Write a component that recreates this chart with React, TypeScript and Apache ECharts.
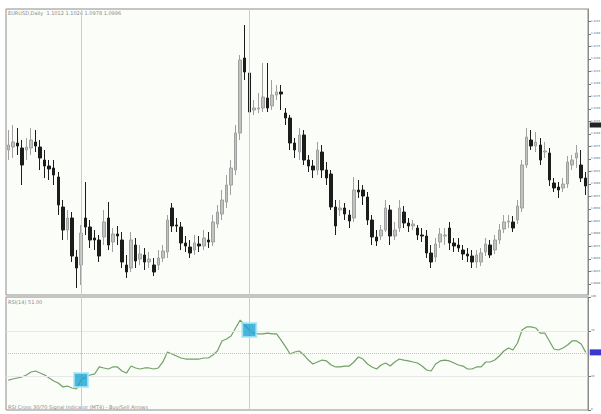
import { useEffect, useRef } from 'react';
import * as echarts from 'echarts';

// Daily candles (EURUSD)
const opens = [
  1.1068, 1.1074, 1.1082, 1.1072, 1.1068, 1.1072, 1.1084, 1.1074, 1.1048, 1.1036,
  1.1032, 1.1014, 1.0954, 1.0908, 1.0932, 1.0854, 1.0838, 1.0932, 1.0914, 1.0892,
  1.0888, 1.0894, 1.0932, 1.0884, 1.0900, 1.0888, 1.0838, 1.0832, 1.0878, 1.0850,
  1.0858, 1.0844, 1.0838, 1.0838, 1.0852, 1.0864, 1.0952, 1.0918, 1.0914, 1.0882,
  1.0874, 1.0868, 1.0880, 1.0876, 1.0888, 1.0884, 1.0920, 1.0940, 1.0964, 1.0998,
  1.1028, 1.1102, 1.1252, 1.1222, 1.1148, 1.1150, 1.1152, 1.1172, 1.1156, 1.1178,
  1.1184, 1.1142, 1.1132, 1.1082, 1.1064, 1.1098, 1.1048, 1.1036, 1.1028, 1.1064,
  1.1028, 1.1020, 1.0954, 1.0948, 1.0952, 1.0938, 1.0932, 1.0988, 1.0988, 1.0974,
  1.0928, 1.0894, 1.0896, 1.0908, 1.0948, 1.0896, 1.0912, 1.0944, 1.0922, 1.0916,
  1.0912, 1.0898, 1.0896, 1.0862, 1.0854, 1.0884, 1.0896, 1.0912, 1.0882, 1.0878,
  1.0868, 1.0860, 1.0856, 1.0844, 1.0844, 1.0864, 1.0878, 1.0868, 1.0888, 1.0910,
  1.0924, 1.0924, 1.0928, 1.0952, 1.1038, 1.1088, 1.1076, 1.1078, 1.1064, 1.1062,
  1.1002, 1.0994, 1.0992, 1.1000, 1.1038, 1.1052, 1.1038, 1.1012,
];
const closes = [
  1.1078, 1.1084, 1.1076, 1.1038, 1.1074, 1.1088, 1.1076, 1.1052, 1.1036, 1.1030,
  1.1018, 1.0958, 1.0908, 1.0932, 1.0856, 1.0832, 1.0902, 1.0914, 1.0888, 1.0888,
  1.0856, 1.0924, 1.0878, 1.0900, 1.0896, 1.0844, 1.0824, 1.0888, 1.0846, 1.0860,
  1.0844, 1.0850, 1.0824, 1.0852, 1.0866, 1.0928, 1.0916, 1.0916, 1.0882, 1.0876,
  1.0862, 1.0882, 1.0876, 1.0892, 1.0884, 1.0924, 1.0944, 1.0968, 1.0998, 1.1032,
  1.1102, 1.1248, 1.1224, 1.1144, 1.1152, 1.1152, 1.1174, 1.1152, 1.1178, 1.1184,
  1.1180, 1.1132, 1.1082, 1.1068, 1.1098, 1.1048, 1.1036, 1.1028, 1.1068, 1.1028,
  1.1012, 1.0954, 1.0916, 1.0952, 1.0940, 1.0926, 1.0988, 1.0984, 1.0976, 1.0928,
  1.0894, 1.0886, 1.0908, 1.0952, 1.0896, 1.0908, 1.0952, 1.0922, 1.0916, 1.0920,
  1.0898, 1.0896, 1.0862, 1.0844, 1.0880, 1.0900, 1.0898, 1.0882, 1.0876, 1.0872,
  1.0860, 1.0856, 1.0844, 1.0858, 1.0862, 1.0880, 1.0858, 1.0888, 1.0908, 1.0924,
  1.0926, 1.0912, 1.0956, 1.1038, 1.1094, 1.1076, 1.1084, 1.1048, 1.1066, 1.1008,
  1.0992, 1.0988, 1.1000, 1.1044, 1.1048, 1.1062, 1.1012, 1.0996,
];
const lows = [
  1.1048, 1.1052, 1.1058, 1.0998, 1.1048, 1.1058, 1.1064, 1.1028, 1.1012, 1.1008,
  1.0998, 1.0938, 1.0888, 1.0888, 1.0844, 1.0792, 1.0798, 1.0898, 1.0872, 1.0868,
  1.0844, 1.0878, 1.0868, 1.0864, 1.0878, 1.0832, 1.0812, 1.0824, 1.0832, 1.0838,
  1.0828, 1.0832, 1.0816, 1.0828, 1.0844, 1.0852, 1.0904, 1.0904, 1.0868, 1.0864,
  1.0852, 1.0858, 1.0864, 1.0868, 1.0872, 1.0876, 1.0912, 1.0928, 1.0952, 1.0978,
  1.1018, 1.1088, 1.1208, 1.1132, 1.1138, 1.1142, 1.1144, 1.1144, 1.1148, 1.1168,
  1.1148, 1.1118, 1.1068, 1.1052, 1.1048, 1.1038, 1.1024, 1.1012, 1.1018, 1.1012,
  1.0998, 1.0948, 1.0898, 1.0936, 1.0928, 1.0912, 1.0924, 1.0972, 1.0958, 1.0918,
  1.0878, 1.0876, 1.0888, 1.0904, 1.0878, 1.0888, 1.0904, 1.0912, 1.0904, 1.0908,
  1.0888, 1.0884, 1.0852, 1.0832, 1.0844, 1.0872, 1.0878, 1.0868, 1.0864, 1.0864,
  1.0848, 1.0844, 1.0832, 1.0832, 1.0836, 1.0856, 1.0852, 1.0860, 1.0880, 1.0902,
  1.0912, 1.0904, 1.0920, 1.0944, 1.1032, 1.1068, 1.1064, 1.1038, 1.1052, 1.0996,
  1.0984, 1.0972, 1.0984, 1.0992, 1.1028, 1.1032, 1.1004, 1.0978,
];
const highs = [
  1.1108, 1.1118, 1.1112, 1.1088, 1.1092, 1.1112, 1.1108, 1.1088, 1.1068, 1.1048,
  1.1048, 1.1024, 1.0968, 1.0948, 1.0944, 1.0868, 1.0918, 1.1004, 1.0928, 1.0908,
  1.0898, 1.0948, 1.0964, 1.0912, 1.0916, 1.0904, 1.0858, 1.0904, 1.0892, 1.0878,
  1.0872, 1.0864, 1.0852, 1.0868, 1.0878, 1.0938, 1.0962, 1.0932, 1.0924, 1.0896,
  1.0888, 1.0898, 1.0896, 1.0908, 1.0904, 1.0938, 1.0958, 1.0988, 1.1018, 1.1048,
  1.1118, 1.1258, 1.1318, 1.1238, 1.1168, 1.1182, 1.1242, 1.1242, 1.1208, 1.1198,
  1.1198, 1.1152, 1.1138, 1.1092, 1.1112, 1.1108, 1.1058, 1.1048, 1.1084, 1.1078,
  1.1044, 1.1028, 1.0968, 1.0968, 1.0962, 1.0948, 1.1014, 1.1008, 1.0998, 1.0984,
  1.0938, 1.0908, 1.0918, 1.0968, 1.0958, 1.0924, 1.0968, 1.0956, 1.0932, 1.0928,
  1.0918, 1.0912, 1.0908, 1.0878, 1.0892, 1.0912, 1.0912, 1.0924, 1.0892, 1.0892,
  1.0878, 1.0872, 1.0868, 1.0868, 1.0872, 1.0892, 1.0888, 1.0898, 1.0920, 1.0938,
  1.0938, 1.0936, 1.0968, 1.1048, 1.1112, 1.1108, 1.1104, 1.1092, 1.1084, 1.1072,
  1.1012, 1.1004, 1.1012, 1.1056, 1.1058, 1.1078, 1.1068, 1.1024,
];

// RSI(14) indicator values
const rsiValues = [
  26.5, 27.4, 28.3, 29.2, 31.0, 33.6, 34.5, 32.7, 31.0, 28.3,
  25.7, 23.9, 20.4, 21.2, 19.5, 18.6, 26.5, 29.2, 31.0, 31.9,
  38.1, 37.2, 36.3, 38.1, 38.1, 34.5, 32.7, 38.9, 37.2, 36.3,
  37.2, 37.2, 36.3, 37.2, 42.5, 51.3, 49.6, 47.8, 46.0, 45.1,
  45.1, 45.1, 45.1, 46.0, 46.0, 48.7, 52.2, 61.1, 62.8, 65.5,
  72.6, 79.6, 75.2, 70.8, 68.1, 67.3, 67.3, 68.1, 67.3, 67.3,
  61.9, 55.8, 49.6, 51.3, 52.2, 48.7, 44.2, 40.7, 42.5, 44.2,
  43.4, 39.8, 38.1, 38.1, 38.9, 38.9, 42.5, 46.9, 45.1, 40.7,
  38.1, 36.3, 39.8, 41.6, 38.9, 42.5, 45.1, 44.2, 43.4, 42.5,
  41.6, 38.9, 35.4, 34.5, 40.7, 43.4, 44.2, 43.4, 41.6, 39.8,
  38.9, 36.3, 36.3, 38.1, 38.1, 42.5, 42.5, 44.2, 47.8, 52.2,
  54.9, 53.1, 59.3, 70.8, 73.5, 73.5, 72.6, 68.1, 68.1, 61.1,
  54.0, 53.1, 54.9, 57.5, 61.1, 61.1, 58.4, 51.0,
];

const categories = opens.map((_, i) => `D${i + 1}`);
const signalIndices = [16, 53];
const priceTicks = [
  1.08, 1.0825, 1.085, 1.0875, 1.09, 1.0925, 1.095, 1.0975, 1.1, 1.1025, 1.105,
  1.1075, 1.11, 1.1125, 1.115, 1.1175, 1.12, 1.1225, 1.125, 1.1275, 1.13, 1.1325,
];
const rsiTicks = [0, 30, 70, 100];
const rsiLevels = [30, 50, 70];
const priceMarkerLevel = 1.1118;

const FONT = 'DejaVu Sans';
const V_LINE_COLOR = '#e9c4aa';

export default function App() {
  const ref = useRef<HTMLDivElement>(null);

  useEffect(() => {
    if (!ref.current) return;
    const chart = echarts.init(ref.current, null, { renderer: 'svg' });
    const n = opens.length;
    const candleData = opens.map((o, i) => [o, closes[i], lows[i], highs[i]]);
    const last = n - 1;

    const vLine = (idx: number) => ({
      xAxis: categories[idx],
      lineStyle: { color: V_LINE_COLOR, width: 1, type: 'solid', opacity: 1 },
    });

    const axisLabelStyle = {
      fontSize: 2.6, color: '#555', margin: 3, fontFamily: FONT,
    };

    const option: any = {
      animation: false,
      backgroundColor: '#ffffff',
      textStyle: { fontFamily: FONT },
      grid: [
        {
          left: 6, top: 9, width: 582, height: 286, show: true,
          outerBoundsMode: 'none', containLabel: false,
          backgroundColor: '#fbfdf9', borderColor: '#8c8c8c', borderWidth: 1,
        },
        {
          left: 6, top: 297, width: 582, height: 113, show: true,
          outerBoundsMode: 'none', containLabel: false,
          backgroundColor: '#fbfdf9', borderColor: '#8c8c8c', borderWidth: 1,
        },
      ],
      xAxis: [0, 1].map((g) => ({
        type: 'category',
        gridIndex: g,
        data: categories,
        boundaryGap: true,
        axisLine: { show: false },
        axisTick: { show: false },
        axisLabel: { show: false },
        splitLine: { show: false },
      })),
      yAxis: [
        {
          type: 'value', gridIndex: 0, position: 'right',
          min: 1.0778, max: 1.135,
          splitLine: { show: false },
          axisLine: { show: true, lineStyle: { color: '#8c8c8c' } },
          axisTick: { show: true, length: 3, customValues: priceTicks, lineStyle: { color: '#777' } },
          axisLabel: {
            ...axisLabelStyle,
            customValues: priceTicks,
            formatter: (v: number) => v.toFixed(4),
          },
        },
        {
          type: 'value', gridIndex: 1, position: 'right', min: 0, max: 100,
          splitLine: { show: false },
          axisLine: { show: true, lineStyle: { color: '#8c8c8c' } },
          axisTick: { show: true, length: 3, customValues: rsiTicks, lineStyle: { color: '#777' } },
          axisLabel: { ...axisLabelStyle, customValues: rsiTicks },
        },
      ],
      series: [
        {
          type: 'candlestick',
          xAxisIndex: 0, yAxisIndex: 0,
          data: candleData,
          barWidth: 3,
          itemStyle: {
            color: '#c2c2c2', color0: '#1c1c1c',
            borderColor: '#a0a0a0', borderColor0: '#1c1c1c', borderWidth: 1,
          },
          markLine: {
            silent: true, symbol: ['none', 'none'], label: { show: false },
            lineStyle: { color: V_LINE_COLOR, type: 'solid', width: 1 },
            data: signalIndices.map(vLine),
          },
          markPoint: {
            silent: true,
            data: [
              {
                coord: [categories[last], priceMarkerLevel],
                symbol: 'rect', symbolSize: [12, 5], symbolOffset: [10, 0],
                itemStyle: { color: '#222' }, label: { show: false },
              },
            ],
          },
        },
        {
          type: 'line',
          xAxisIndex: 1, yAxisIndex: 1,
          data: rsiValues,
          showSymbol: false,
          lineStyle: { color: '#72a066', width: 1.2 },
          itemStyle: { color: '#72a066' },
          z: 3,
          markLine: {
            silent: true, symbol: ['none', 'none'], label: { show: false },
            lineStyle: { color: V_LINE_COLOR, type: 'solid', width: 1 },
            data: [
              ...rsiLevels.map((lv) => ({
                yAxis: lv,
                lineStyle: {
                  color: lv === 50 ? '#c2c2c2' : '#e8e8e8',
                  width: 1, type: lv === 50 ? 'dotted' : 'solid', opacity: 1,
                },
              })),
              ...signalIndices.map(vLine),
            ],
          },
          markPoint: {
            silent: true,
            data: [
              {
                coord: [categories[last], rsiValues[last]],
                symbol: 'rect', symbolSize: [12, 6], symbolOffset: [10, 0],
                itemStyle: { color: '#3838d0' }, label: { show: false },
              },
            ],
          },
        },
        {
          type: 'scatter',
          xAxisIndex: 1, yAxisIndex: 1,
          data: signalIndices.map((idx) => [categories[idx], rsiValues[idx]]),
          symbol: 'rect',
          symbolSize: 14,
          itemStyle: { color: '#1ba2d4', borderColor: '#a6e8f8', borderWidth: 2 },
          z: 5,
        },
      ],
      graphic: [
        {
          type: 'text', left: 8, top: 10, silent: true,
          style: {
            text: `EURUSD,Daily  ${opens[last].toFixed(4)} ${highs[last].toFixed(4)} ${lows[last].toFixed(4)} ${closes[last].toFixed(4)}`,
            fontSize: 5, fill: '#8a8a8a', fontFamily: FONT,
          },
        },
        {
          type: 'text', left: 8, top: 299, silent: true,
          style: {
            text: `RSI(14) ${rsiValues[last].toFixed(2)}`,
            fontSize: 5, fill: '#8a8a8a', fontFamily: FONT,
          },
        },
        {
          type: 'text', left: 8, top: 404, silent: true,
          style: {
            text: 'RSI Cross 30/70 Signal Indicator (MT4) - Buy/Sell Arrows',
            fontSize: 5, fill: '#8a8a8a', fontFamily: FONT,
          },
        },
      ],
    };

    chart.setOption(option);
    return () => chart.dispose();
  }, []);

  return (
    <div
      ref={ref}
      style={{ position: 'fixed', left: 0, top: 0, width: 601, height: 414 }}
    />
  );
}
